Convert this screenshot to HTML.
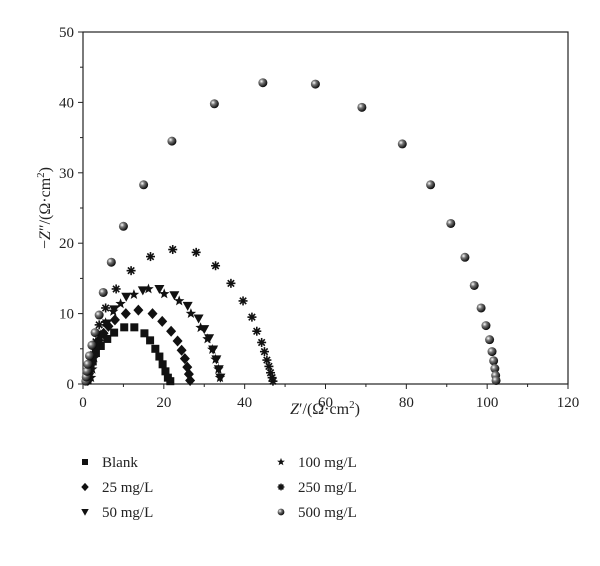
<!DOCTYPE html>
<html><head><meta charset="utf-8"><style>
body{margin:0;background:#fff}
svg text{font-family:"Liberation Serif",serif;fill:#222}
</style></head><body>
<svg id="c" width="600" height="561" viewBox="0 0 600 561">
<defs><radialGradient id="sph" cx="0.35" cy="0.35" r="0.7"><stop offset="0" stop-color="#fff"/><stop offset="0.35" stop-color="#777"/><stop offset="1" stop-color="#000"/></radialGradient></defs>
<g id="axes"></g><g id="marks"></g><g id="legend"></g>
</svg>
<script>
const xTicks=[0,20,40,60,80,100,120];
const yTicks=[0,10,20,30,40,50];
const seriesNames=["Blank","25 mg/L","50 mg/L","100 mg/L","250 mg/L","500 mg/L"];
const seriesShapes=["square","diamond","triangle","star","asterisk","sphere"];
const blankX=[1.1,1.3,1.8,2.4,3.2,4.4,6,7.7,10.2,12.7,15.2,16.6,17.9,18.9,19.7,20.4,21,21.6];
const blankY=[0.5,1.3,2.2,3.2,4.4,5.4,6.4,7.3,8.05,8.05,7.2,6.2,5.0,3.9,2.8,1.8,0.9,0.4];
const c25X=[1.2,1.4,1.8,2.4,3.1,3.9,5.1,6.3,7.9,10.6,13.7,17.2,19.6,21.8,23.4,24.4,25.2,25.8,26.2,26.5];
const c25Y=[0.5,1.5,2.7,3.9,5.0,6.2,7.2,8.2,9.1,10.0,10.5,10.0,8.9,7.5,6.1,4.8,3.6,2.4,1.4,0.5];
const c50X=[1.5,2,2.6,3.4,4.7,5.9,7.7,10.7,14.8,18.9,22.6,25.9,28.6,30,31.2,32.2,33,33.6,34];
const c50Y=[1.0,2.4,4.0,5.6,7.0,8.6,10.6,12.4,13.3,13.5,12.6,11.1,9.3,7.8,6.5,4.9,3.5,2.1,0.9];
const c100X=[2,2.3,2.8,3.4,4.4,5.6,7.5,9.3,12.6,16.2,20.1,23.8,26.7,29.1,30.8,32,32.8,33.5,33.9];
const c100Y=[0.9,2.1,3.7,5.4,7.0,8.7,10.3,11.4,12.7,13.5,12.8,11.8,10.0,8.0,6.4,4.9,3.5,2.1,0.9];
const c250X=[1.2,1.5,2,2.6,3.2,4,5.6,8.2,11.9,16.7,22.2,28,32.8,36.6,39.6,41.8,43,44.2,44.9,45.5,46,46.4,46.8,47];
const c250Y=[0.5,1.5,2.8,4.2,6.0,8.4,10.8,13.5,16.1,18.1,19.1,18.7,16.8,14.3,11.8,9.5,7.5,5.9,4.6,3.4,2.5,1.6,0.9,0.4];
const c500X=[0.7,0.8,1,1.2,1.6,2.2,3,4,5,7,10,15,22,32.5,44.5,57.5,69,79,86,91,94.5,96.8,98.5,99.7,100.6,101.2,101.6,101.9,102.1,102.2];
const c500Y=[0.4,1,1.8,2.8,4,5.5,7.3,9.8,13,17.3,22.4,28.3,34.5,39.8,42.8,42.6,39.3,34.1,28.3,22.8,18,14,10.8,8.3,6.3,4.6,3.3,2.2,1.2,0.5];
const allX=[blankX,c25X,c50X,c100X,c250X,c500X], allY=[blankY,c25Y,c50Y,c100Y,c250Y,c500Y];
const L=83,R=568,T=32,B=384;
const sx=v=>L+(v-0)/(120-0)*(R-L), sy=v=>B-(v-0)/(50-0)*(B-T);
const NS="http://www.w3.org/2000/svg";
function mk(t,a,p){const e=document.createElementNS(NS,t);for(const k in a)e.setAttribute(k,a[k]);p.appendChild(e);return e;}
const ax=document.getElementById('axes'), mg=document.getElementById('marks'), lg=document.getElementById('legend');
const frame=mk('rect',{x:L,y:T,width:R-L,height:B-T,fill:'none',stroke:'#222','stroke-width':1.2},ax);


xTicks.forEach((v,i)=>{const x=sx(v);mk('line',{x1:x,x2:x,y1:B,y2:B+5,stroke:'#222'},ax);
 if(i<xTicks.length-1){const m=sx(v+10);mk('line',{x1:m,x2:m,y1:B,y2:B+3,stroke:'#222'},ax);}
 const t=mk('text',{x:x,y:B+23,'text-anchor':'middle','font-size':15},ax);t.textContent=v;
 
 });
yTicks.forEach((v,i)=>{const y=sy(v);mk('line',{x1:L-5,x2:L,y1:y,y2:y,stroke:'#222'},ax);
 if(i<yTicks.length-1){const m=sy(v+5);mk('line',{x1:L-3,x2:L,y1:m,y2:m,stroke:'#222'},ax);}
 const t=mk('text',{x:L-9,y:y+5,'text-anchor':'end','font-size':15},ax);t.textContent=v;
 
 });
const xt=mk('text',{x:325,y:414,'text-anchor':'middle','font-size':16},ax);
xt.innerHTML='<tspan font-style="italic">Z</tspan>′/(Ω·cm<tspan dy="-6" font-size="11">2</tspan><tspan dy="6">)</tspan>';


const yt=mk('text',{x:0,y:0,'text-anchor':'middle','font-size':16,transform:'translate(50,208) rotate(-90)'},ax);
yt.innerHTML='−<tspan font-style="italic">Z</tspan>″/(Ω·cm<tspan dy="-6" font-size="11">2</tspan><tspan dy="6">)</tspan>';


function marker(shape,x,y,p,s){
 s=s||1;let e;
 if(shape==='square')e=mk('rect',{x:x-4*s,y:y-4*s,width:8*s,height:8*s,fill:'#111'},p);
 else if(shape==='diamond')e=mk('polygon',{points:`${x},${y-5.5*s} ${x+5*s},${y} ${x},${y+5.5*s} ${x-5*s},${y}`,fill:'#111'},p);
 else if(shape==='triangle')e=mk('polygon',{points:`${x-5*s},${y-4*s} ${x+5*s},${y-4*s} ${x},${y+5*s}`,fill:'#111'},p);
 else if(shape==='star'){let pts=[];for(let k=0;k<10;k++){const r=(k%2?2.3:5.5)*s,a=-Math.PI/2+k*Math.PI/5;pts.push((x+r*Math.cos(a)).toFixed(1)+','+(y+r*Math.sin(a)).toFixed(1));}
  e=mk('polygon',{points:pts.join(' '),fill:'#111'},p);}
 else if(shape==='asterisk'){e=mk('g',{stroke:'#111','stroke-width':1.6},p);
  for(let k=0;k<4;k++){const a=k*Math.PI/4,r=4.5*s;mk('line',{x1:x-r*Math.cos(a),y1:y-r*Math.sin(a),x2:x+r*Math.cos(a),y2:y+r*Math.sin(a)},e);}}
 else e=mk('circle',{cx:x,cy:y,r:4.5*s,fill:'url(#sph)'},p);
 return e;}
allX.forEach((xs,si)=>{xs.forEach((v,i)=>{const e=marker(seriesShapes[si],sx(v),sy(allY[si][i]),mg);
 
 });});
seriesNames.forEach((n,i)=>{const col=i<3?0:1,row=i%3;const mx=col?281:85,y=462+row*25;
 const g=mk('g',{},lg);
 
 
 marker(seriesShapes[i],mx,y,g,0.75);
 const t=mk('text',{x:mx+17,y:y+5,'font-size':15},g);t.textContent=n;});
</script>
</body></html>
